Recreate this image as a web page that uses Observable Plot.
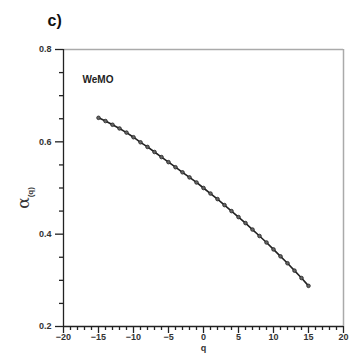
<!DOCTYPE html>
<html><head><meta charset="utf-8">
<script src="https://cdn.jsdelivr.net/npm/d3@7"></script>
<script src="https://cdn.jsdelivr.net/npm/@observablehq/plot@0.6"></script>
<style>
body{margin:0;background:#fff;font-family:"Liberation Sans",Arial,sans-serif;}
#wrap{position:relative;width:352px;height:364px;}
#ylab{position:absolute;left:24px;top:198px;transform:translate(-50%,-50%) rotate(-90deg);font-size:17px;color:#333;white-space:nowrap;font-family:"DejaVu Serif",serif;}
#ylab sub{font-size:8px;font-family:"Liberation Sans",Arial,sans-serif;font-weight:bold;}
</style></head>
<body><div id="wrap"><div id="ylab">α<sub>(q)</sub></div></div>
<script>
const qValues = [-15,-14,-13,-12,-11,-10,-9,-8,-7,-6,-5,-4,-3,-2,-1,0,1,2,3,4,5,6,7,8,9,10,11,12,13,14,15];
const alphaValues = [0.652,0.645,0.637,0.629,0.620,0.610,0.599,0.589,0.578,0.567,0.556,0.545,0.534,0.523,0.512,0.500,0.488,0.476,0.463,0.450,0.437,0.424,0.410,0.396,0.382,0.367,0.352,0.337,0.321,0.305,0.288];
const xMajorTicks = [-20,-15,-10,-5,0,5,10,15,20];
const yMajorTicks = [0.2,0.4,0.6,0.8];
const seriesLabel = "WeMO";
const panelLabel = "c)";
const xLabel = "q";

const data = qValues.map((q,i)=>({q, a: alphaValues[i]}));
const xMinor = d3.range(-20,21,1).filter(v=>!xMajorTicks.includes(v));
const yMinor = d3.range(0.2,0.801,0.05).map(v=>+v.toFixed(2)).filter(v=>!yMajorTicks.some(t=>Math.abs(t-v)<1e-9));

const txt = {fill:"#333", fontWeight:"bold", fontSize:9};
const chart = Plot.plot({
  width:352, height:364,
  marginLeft:63, marginRight:9, marginTop:49, marginBottom:38,
  style:{fontFamily:"Liberation Sans, Arial, sans-serif", color:"#333", background:"#fff"},
  x:{domain:[-20,20]},
  y:{domain:[0.2,0.8]},
  marks:[
    Plot.ruleY([0.8],{stroke:"#aaa", strokeWidth:1.5}),
    Plot.ruleX([20],{stroke:"#aaa", strokeWidth:1.5}),
    Plot.ruleX([-20],{stroke:"#222", strokeWidth:1.3}),
    Plot.ruleY([0.2],{stroke:"#222", strokeWidth:1.3}),
    Plot.axisX({ticks:xMajorTicks, tickSize:7, tickPadding:0, tickFormat:d3.format("d"), label:null, stroke:"#222", strokeWidth:1.3, ...txt}),
    Plot.axisX({ticks:xMinor, tickSize:4, tickFormat:null, text:null, label:null, stroke:"#222", strokeWidth:1.3}),
    Plot.axisY({ticks:yMajorTicks, tickSize:8, tickPadding:4, tickFormat:d3.format(".1f"), label:null, stroke:"#222", strokeWidth:1.3, ...txt}),
    Plot.axisY({ticks:yMinor, tickSize:4, text:null, label:null, stroke:"#222", strokeWidth:1.3}),
    Plot.line(data,{x:"q", y:"a", stroke:"#222", strokeWidth:1.6}),
    Plot.dot(data,{x:"q", y:"a", r:1.8, fill:"#666", stroke:"#222", strokeWidth:0.8}),
    Plot.text([seriesLabel],{frameAnchor:"top-left", dx:19, dy:26, textAnchor:"start", fill:"#222", fontWeight:"bold", fontSize:10}),
    Plot.text([panelLabel],{frameAnchor:"top-left", dx:-16, dy:-35, textAnchor:"start", fill:"#111", fontWeight:"bold", fontSize:16}),
    Plot.text([xLabel],{frameAnchor:"bottom", dy:24, fill:"#333", fontWeight:"bold", fontSize:9})
  ]
});
document.getElementById("wrap").prepend(chart);
chart.style.position="absolute"; chart.style.left="0"; chart.style.top="0";
</script>
</body></html>
